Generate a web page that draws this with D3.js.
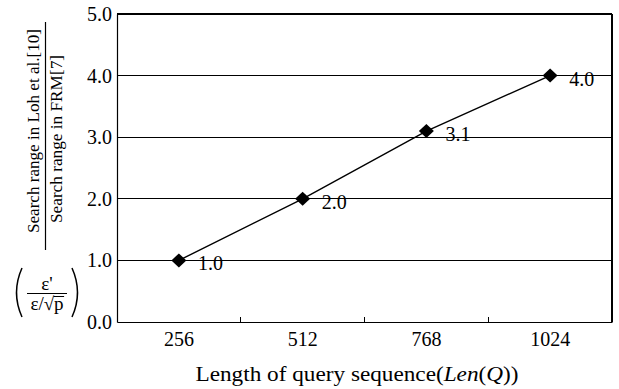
<!DOCTYPE html>
<html>
<head>
<meta charset="utf-8">
<script src="https://cdn.jsdelivr.net/npm/d3@7"></script>
<style>
  html, body { margin: 0; padding: 0; background: #fff; }
  svg { display: block; }
  svg text { font-family: "Liberation Serif", "Times New Roman", serif !important; fill: #000; }
</style>
</head>
<body>
<svg id="chart" width="619" height="389"></svg>
<script>
// Query lengths and the ratio of search ranges
const lengths = ["256", "512", "768", "1024"];
const ratios = [1.0, 2.0, 3.1, 4.0];
const yTicks = [0, 1, 2, 3, 4, 5];

const svg = d3.select("#chart");
const plot = { left: 117, right: 612, top: 14, bottom: 322 };

const x = d3.scaleBand().domain(lengths).range([plot.left, plot.right]).padding(0);
const y = d3.scaleLinear().domain([0, 5]).range([plot.bottom, plot.top]);

// Horizontal grid lines (and the top frame at 5.0)
svg.append("g")
  .selectAll("line")
  .data(yTicks.filter(d => d > 0))
  .join("line")
  .attr("x1", plot.left).attr("x2", plot.right)
  .attr("y1", d => y(d)).attr("y2", d => y(d))
  .attr("stroke", "#000").attr("stroke-width", 1.2)
  .attr("shape-rendering", "crispEdges");

// Right frame
svg.append("line")
  .attr("x1", plot.right).attr("x2", plot.right)
  .attr("y1", plot.top).attr("y2", plot.bottom)
  .attr("stroke", "#000").attr("stroke-width", 1.2)
  .attr("shape-rendering", "crispEdges");

// Y axis
const yAxis = svg.append("g")
  .attr("transform", `translate(${plot.left},0)`)
  .call(d3.axisLeft(y).tickValues(yTicks).tickFormat(d3.format(".1f")).tickSize(0).tickPadding(5));
yAxis.select(".domain").attr("stroke", "#000").attr("stroke-width", 1.2);
yAxis.selectAll("text").attr("font-size", 20);

// X axis: labels centred in each band, ticks on band boundaries pointing inward
const xAxis = svg.append("g")
  .attr("transform", `translate(0,${plot.bottom})`)
  .call(d3.axisBottom(x).tickSize(0).tickPadding(10));
xAxis.select(".domain").attr("stroke", "#000").attr("stroke-width", 1.2);
xAxis.selectAll("text").attr("font-size", 20);

svg.append("g")
  .selectAll("line")
  .data(lengths.slice(1))
  .join("line")
  .attr("x1", d => x(d)).attr("x2", d => x(d))
  .attr("y1", plot.bottom).attr("y2", plot.bottom - 5)
  .attr("stroke", "#000").attr("stroke-width", 1)
  .attr("shape-rendering", "crispEdges");

// Data line
const pts = lengths.map((l, i) => ({ l, v: ratios[i] }));
const cx = d => x(d.l) + x.bandwidth() / 2;

svg.append("path")
  .datum(pts)
  .attr("fill", "none")
  .attr("stroke", "#000")
  .attr("stroke-width", 1.4)
  .attr("d", d3.line().x(cx).y(d => y(d.v)));

// Diamond markers
svg.append("g")
  .selectAll("path")
  .data(pts)
  .join("path")
  .attr("transform", d => `translate(${cx(d)},${y(d.v)})`)
  .attr("d", "M0,-7L7.5,0L0,7L-7.5,0Z")
  .attr("fill", "#000");

// Value labels
svg.append("g")
  .selectAll("text")
  .data(pts)
  .join("text")
  .attr("x", d => cx(d) + 19)
  .attr("y", d => y(d.v) + 10)
  .attr("font-size", 20)
  .text(d => d.v.toFixed(1));

// X axis title
const xt = svg.append("text")
  .attr("x", 357).attr("y", 381)
  .attr("text-anchor", "middle")
  .attr("font-size", 22)
  .attr("textLength", 323).attr("lengthAdjust", "spacingAndGlyphs");
xt.append("tspan").text("Length of query sequence(");
xt.append("tspan").attr("font-style", "italic").text("Len");
xt.append("tspan").text("(");
xt.append("tspan").attr("font-style", "italic").text("Q");
xt.append("tspan").text("))");

// Y axis title: a fraction of two search ranges, rotated
svg.append("text")
  .attr("transform", "translate(39,131) rotate(-90)")
  .attr("text-anchor", "middle")
  .attr("font-size", 17)
  .attr("textLength", 204).attr("lengthAdjust", "spacingAndGlyphs")
  .text("Search range in Loh et al.[10]");
svg.append("line")
  .attr("x1", 45.5).attr("x2", 45.5).attr("y1", 22).attr("y2", 250)
  .attr("stroke", "#000").attr("stroke-width", 1.2);
svg.append("text")
  .attr("transform", "translate(62,139) rotate(-90)")
  .attr("text-anchor", "middle")
  .attr("font-size", 17)
  .attr("textLength", 168).attr("lengthAdjust", "spacingAndGlyphs")
  .text("Search range in FRM[7]");

// Formula: ( ε' / (ε/√p) )
const fx = 47;
svg.append("text")
  .attr("x", fx).attr("y", 290)
  .attr("text-anchor", "middle")
  .attr("font-size", 19)
  .text("ε'");
svg.append("line")
  .attr("x1", 27).attr("x2", 67).attr("y1", 293.5).attr("y2", 293.5)
  .attr("stroke", "#000").attr("stroke-width", 1.2);
const den = svg.append("text")
  .attr("x", fx).attr("y", 310)
  .attr("text-anchor", "middle")
  .attr("font-size", 19)
  .text("ε/√p");
// Vinculum over p
const node = den.node();
const startP = node.getStartPositionOfChar(3);
const endP = node.getEndPositionOfChar(3);
svg.append("line")
  .attr("x1", startP.x - 0.5).attr("x2", endP.x + 0.5)
  .attr("y1", 296.5).attr("y2", 296.5)
  .attr("stroke", "#000").attr("stroke-width", 1);

// Tall parentheses
svg.append("path")
  .attr("d", "M22,268 Q11,292.5 22,317")
  .attr("fill", "none").attr("stroke", "#000").attr("stroke-width", 1.5);
svg.append("path")
  .attr("d", "M72,268 Q83,292.5 72,317")
  .attr("fill", "none").attr("stroke", "#000").attr("stroke-width", 1.5);
</script>
</body>
</html>
